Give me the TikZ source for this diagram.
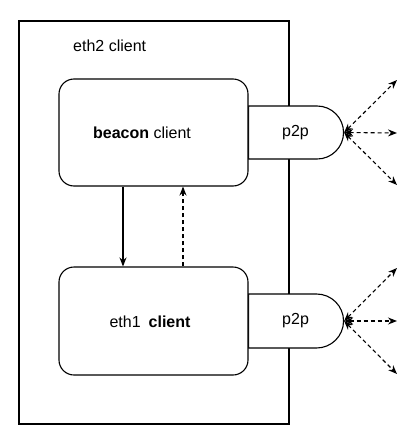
\documentclass[tikz,border=0pt]{standalone}
\usepackage{fontspec}
\setmainfont{Liberation Sans}
\usetikzlibrary{shapes.misc,arrows.meta}
\tikzset{
  txt/.style={font=\fontsize{16}{19}\selectfont, inner sep=0pt},
  box/.style={draw, line width=1.1pt, rounded corners=15pt, fill=white, inner sep=0pt},
  p2pshape/.style={draw, line width=1.1pt, rounded rectangle, rounded rectangle west arc=none, fill=white, inner sep=0pt, minimum width=95pt, font=\fontsize{16}{19}\selectfont},
  flow/.style={line width=1.1pt, -{Stealth[length=9pt,width=7pt]}},
  peer/.style={line width=1.1pt, dashed, dash pattern=on 4pt off 3pt, {Stealth[length=9pt,width=7pt]}-{Stealth[length=9pt,width=7pt]}},
}
\begin{document}
\begin{tikzpicture}[x=1pt,y=-1pt]
\useasboundingbox (0,0) rectangle (416,442);
\node[draw, line width=1.1pt, minimum width=270pt, minimum height=403pt, inner sep=0pt] (outer) at (154,222.5) {};
\node[txt, anchor=west] (lbl) at (73,46) {eth2 client};
\node[p2pshape, minimum height=53pt, anchor=west] (p2pA) at (248,132.5) {p2p};
\node[p2pshape, minimum height=54pt, anchor=west] (p2pB) at (248,321) {p2p};
\node[box, minimum width=189pt, minimum height=107pt] (beacon) at (153.5,132.5) {};
\node[box, minimum width=189pt, minimum height=108pt] (eth1) at (153.5,321) {};
\node[txt] (beaconlbl) at (142,133) {\textbf{beacon} client};
\node[txt] (eth1lbl) at (150,322) {eth1\hspace{0.5em}\textbf{client}};
\draw[flow] ([xshift=-30.5pt]beacon.south) -- ([xshift=-30.5pt]eth1.north);
\draw[flow, dashed, dash pattern=on 4pt off 3pt] ([xshift=29.5pt]eth1.north) -- ([xshift=29.5pt]beacon.south);
\coordinate (a1) at (397,80);
\coordinate (a2) at (397,133);
\coordinate (a3) at (397,185);
\coordinate (b1) at (397,268);
\coordinate (b2) at (397,321);
\coordinate (b3) at (397,374);
\draw[peer] (p2pA.east) -- (a1);
\draw[peer] (p2pA.east) -- (a2);
\draw[peer] (p2pA.east) -- (a3);
\draw[peer] (p2pB.east) -- (b1);
\draw[peer] (p2pB.east) -- (b2);
\draw[peer] (p2pB.east) -- (b3);
\end{tikzpicture}
\end{document}
